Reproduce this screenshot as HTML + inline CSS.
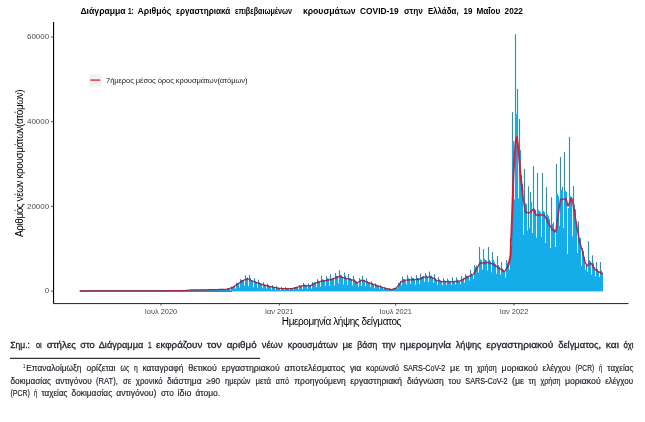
<!DOCTYPE html>
<html><head><meta charset="utf-8">
<style>
html,body{margin:0;padding:0;background:#fff;}
body{width:645px;height:422px;position:relative;overflow:hidden;font-family:"Liberation Sans",sans-serif;}
.t{position:absolute;white-space:nowrap;line-height:1;}
svg{position:absolute;left:0;top:0;opacity:0.999;will-change:transform;}
svg text{font-family:"Liberation Sans",sans-serif;}
</style></head><body>
<svg width="645" height="422" viewBox="0 0 645 422">
<g fill="#e9fafd">
<rect x="244" y="275.87" width="1" height="9.91"/>
<rect x="246" y="275.87" width="1" height="2.46"/>
<rect x="248" y="275.39" width="1" height="10.92"/>
<rect x="250" y="275.39" width="1" height="2.78"/>
<rect x="253" y="278.87" width="1" height="8.25"/>
<rect x="255" y="278.87" width="1" height="2.54"/>
<rect x="257" y="280.27" width="1" height="7.38"/>
<rect x="259" y="280.27" width="1" height="2.17"/>
<rect x="320" y="276.24" width="1" height="10.59"/>
<rect x="322" y="276.24" width="1" height="2.99"/>
<rect x="329" y="274.61" width="1" height="11.36"/>
<rect x="331" y="274.61" width="1" height="4.09"/>
<rect x="334" y="273.48" width="1" height="12"/>
<rect x="336" y="273.48" width="1" height="2.37"/>
<rect x="338" y="270.84" width="1" height="12.73"/>
<rect x="340" y="270.84" width="1" height="3.97"/>
<rect x="343" y="273.14" width="1" height="11.43"/>
<rect x="345" y="273.14" width="1" height="2.57"/>
<rect x="347" y="274.8" width="1" height="10.28"/>
<rect x="349" y="274.8" width="1" height="3.24"/>
<rect x="352" y="276.31" width="1" height="9.11"/>
<rect x="354" y="276.31" width="1" height="2.97"/>
<rect x="361" y="276.41" width="1" height="9.59"/>
<rect x="363" y="276.41" width="1" height="3.22"/>
<rect x="406" y="275.62" width="1" height="8.88"/>
<rect x="408" y="275.62" width="1" height="2.72"/>
<rect x="415" y="275.75" width="1" height="8.98"/>
<rect x="417" y="275.75" width="1" height="2.2"/>
<rect x="419" y="274.3" width="1" height="9.75"/>
<rect x="421" y="274.3" width="1" height="3"/>
<rect x="428" y="272.24" width="1" height="10.04"/>
<rect x="430" y="272.24" width="1" height="3.27"/>
<rect x="433" y="274.93" width="1" height="7.94"/>
<rect x="435" y="274.93" width="1" height="3.14"/>
<rect x="451" y="277.95" width="1" height="6.75"/>
<rect x="453" y="277.95" width="1" height="2.93"/>
<rect x="460" y="276.66" width="1" height="7.5"/>
<rect x="462" y="276.66" width="1" height="2.28"/>
<rect x="469" y="270.39" width="1" height="10.22"/>
<rect x="471" y="270.39" width="1" height="2.79"/>
<rect x="478" y="247.5" width="1" height="25.08"/>
<rect x="480" y="247.5" width="1" height="11.67"/>
<rect x="482" y="249.5" width="1" height="20.19"/>
<rect x="484" y="249.5" width="1" height="9.2"/>
<rect x="487" y="247.5" width="1" height="23.03"/>
<rect x="489" y="247.5" width="1" height="12.19"/>
<rect x="491" y="252.5" width="1" height="19.63"/>
<rect x="493" y="252.5" width="1" height="7.15"/>
<rect x="496" y="256.5" width="1" height="17.52"/>
<rect x="498" y="256.5" width="1" height="8.42"/>
<rect x="500" y="262.5" width="1" height="12.13"/>
<rect x="502" y="262.5" width="1" height="6.36"/>
<rect x="505" y="260.5" width="1" height="16.98"/>
<rect x="507" y="260.5" width="1" height="2.59"/>
<rect x="509" y="239.33" width="1" height="30.48"/>
<rect x="511" y="239.33" width="1" height="5.75"/>
<rect x="511" y="112.5" width="1" height="132.58"/>
<rect x="513" y="112.5" width="1" height="28.5"/>
<rect x="514" y="34.9" width="1" height="164.5"/>
<rect x="516" y="34.9" width="1" height="79.1"/>
<rect x="516" y="89.5" width="1" height="24.5"/>
<rect x="518" y="89.5" width="1" height="108.9"/>
<rect x="518" y="119.5" width="1" height="78.9"/>
<rect x="520" y="119.5" width="1" height="30.56"/>
<rect x="523" y="169.5" width="1" height="64.9"/>
<rect x="525" y="169.5" width="1" height="33.5"/>
<rect x="527" y="186.9" width="1" height="43.7"/>
<rect x="529" y="186.9" width="1" height="40.8"/>
<rect x="529" y="192.8" width="1" height="34.9"/>
<rect x="531" y="192.8" width="1" height="9.2"/>
<rect x="532" y="166.7" width="1" height="66.3"/>
<rect x="534" y="166.7" width="1" height="42.3"/>
<rect x="536" y="173.4" width="1" height="64.3"/>
<rect x="538" y="173.4" width="1" height="36.6"/>
<rect x="541" y="173.4" width="1" height="63.4"/>
<rect x="543" y="173.4" width="1" height="37.6"/>
<rect x="545" y="187.8" width="1" height="55.2"/>
<rect x="547" y="187.8" width="1" height="26.2"/>
<rect x="550" y="197.9" width="1" height="50.1"/>
<rect x="552" y="197.9" width="1" height="26.1"/>
<rect x="555" y="164.5" width="1" height="82.5"/>
<rect x="557" y="164.5" width="1" height="29.5"/>
<rect x="559" y="157.5" width="1" height="68.5"/>
<rect x="561" y="157.5" width="1" height="32.5"/>
<rect x="561" y="187.5" width="1" height="2.5"/>
<rect x="563" y="187.5" width="1" height="40.5"/>
<rect x="563" y="152.5" width="1" height="75.5"/>
<rect x="565" y="152.5" width="1" height="38.5"/>
<rect x="568" y="137.5" width="1" height="70.5"/>
<rect x="570" y="137.5" width="1" height="58.5"/>
<rect x="572" y="186.5" width="1" height="49.8"/>
<rect x="574" y="186.5" width="1" height="17.98"/>
<rect x="577" y="221.9" width="1" height="31.1"/>
<rect x="579" y="221.9" width="1" height="15.79"/>
<rect x="581" y="248.5" width="1" height="17.5"/>
<rect x="583" y="248.5" width="1" height="2.59"/>
<rect x="585" y="266.14" width="1" height="3.86"/>
<rect x="587" y="266.14" width="1" height="5.86"/>
<rect x="587" y="241.9" width="1" height="30.1"/>
<rect x="589" y="241.9" width="1" height="18.2"/>
<rect x="591" y="256.1" width="1" height="18.6"/>
<rect x="593" y="256.1" width="1" height="7.01"/>
<rect x="595" y="262.5" width="1" height="14.1"/>
<rect x="597" y="262.5" width="1" height="6.55"/>
<rect x="599" y="262.5" width="1" height="14.5"/>
<rect x="601" y="262.5" width="1" height="8.12"/>
</g>
<g fill="#d6f5fc">
<rect x="194" y="289.85" width="1" height="0.73"/>
<rect x="199" y="289.89" width="1" height="0.61"/>
<rect x="203" y="289.77" width="1" height="0.79"/>
<rect x="208" y="289.71" width="1" height="0.78"/>
<rect x="212" y="289.46" width="1" height="0.95"/>
<rect x="217" y="289.52" width="1" height="0.84"/>
<rect x="221" y="289.36" width="1" height="0.98"/>
<rect x="226" y="289.25" width="1" height="1.02"/>
<rect x="230" y="288.23" width="1" height="1.67"/>
<rect x="235" y="286.04" width="1" height="2.62"/>
<rect x="239" y="282.9" width="1" height="4.53"/>
<rect x="244" y="280.39" width="1" height="5.39"/>
<rect x="246" y="277.59" width="1" height="0.73"/>
<rect x="248" y="277.59" width="1" height="8.71"/>
<rect x="253" y="280.94" width="1" height="6.19"/>
<rect x="257" y="282.19" width="1" height="5.46"/>
<rect x="262" y="283.99" width="1" height="4.39"/>
<rect x="266" y="285.04" width="1" height="3.82"/>
<rect x="271" y="286.59" width="1" height="2.79"/>
<rect x="275" y="287.06" width="1" height="2.58"/>
<rect x="280" y="288.39" width="1" height="1.55"/>
<rect x="284" y="288.29" width="1" height="1.65"/>
<rect x="289" y="288.62" width="1" height="1.45"/>
<rect x="293" y="288.44" width="1" height="1.32"/>
<rect x="298" y="287.08" width="1" height="2.15"/>
<rect x="302" y="285.72" width="1" height="3.17"/>
<rect x="307" y="285.99" width="1" height="2.77"/>
<rect x="311" y="285.01" width="1" height="3.37"/>
<rect x="313" y="282.26" width="1" height="0.72"/>
<rect x="316" y="282.78" width="1" height="4.54"/>
<rect x="320" y="281.38" width="1" height="5.44"/>
<rect x="325" y="280.12" width="1" height="5.77"/>
<rect x="329" y="278.79" width="1" height="7.18"/>
<rect x="334" y="278.26" width="1" height="7.21"/>
<rect x="338" y="276.24" width="1" height="7.33"/>
<rect x="343" y="277.18" width="1" height="7.39"/>
<rect x="347" y="278.05" width="1" height="7.04"/>
<rect x="352" y="279.8" width="1" height="5.62"/>
<rect x="358" y="283.02" width="1" height="3.72"/>
<rect x="361" y="279.48" width="1" height="6.51"/>
<rect x="365" y="279.77" width="1" height="6.16"/>
<rect x="370" y="282.55" width="1" height="4.41"/>
<rect x="374" y="284.14" width="1" height="4.01"/>
<rect x="379" y="285.81" width="1" height="2.85"/>
<rect x="383" y="287.2" width="1" height="2.07"/>
<rect x="388" y="288.65" width="1" height="1.37"/>
<rect x="392" y="289.55" width="1" height="0.62"/>
<rect x="397" y="287.58" width="1" height="1.04"/>
<rect x="401" y="281.41" width="1" height="3.91"/>
<rect x="406" y="280.65" width="1" height="3.85"/>
<rect x="410" y="278.7" width="1" height="5.22"/>
<rect x="415" y="279.54" width="1" height="5.19"/>
<rect x="419" y="278.24" width="1" height="5.81"/>
<rect x="421" y="276.22" width="1" height="1.08"/>
<rect x="424" y="276.24" width="1" height="5.64"/>
<rect x="428" y="277.23" width="1" height="5.05"/>
<rect x="433" y="277.41" width="1" height="5.46"/>
<rect x="437" y="280.09" width="1" height="4.8"/>
<rect x="442" y="280.88" width="1" height="4.42"/>
<rect x="446" y="281.08" width="1" height="3.62"/>
<rect x="451" y="281.47" width="1" height="3.22"/>
<rect x="455" y="280.7" width="1" height="3.75"/>
<rect x="460" y="281.17" width="1" height="2.99"/>
<rect x="462" y="278.21" width="1" height="0.73"/>
<rect x="464" y="278.21" width="1" height="4.54"/>
<rect x="469" y="276.52" width="1" height="4.08"/>
<rect x="473" y="274.91" width="1" height="4.14"/>
<rect x="475" y="265.7" width="1" height="1.32"/>
<rect x="478" y="266.23" width="1" height="6.35"/>
<rect x="482" y="260.14" width="1" height="9.55"/>
<rect x="487" y="260.55" width="1" height="9.98"/>
<rect x="491" y="261.36" width="1" height="10.77"/>
<rect x="496" y="264.33" width="1" height="9.69"/>
<rect x="500" y="266.68" width="1" height="7.96"/>
<rect x="505" y="271.73" width="1" height="5.75"/>
<rect x="507" y="261.5" width="1" height="1.58"/>
<rect x="509" y="261.5" width="1" height="8.31"/>
<rect x="511" y="238.83" width="1" height="6.25"/>
<rect x="514" y="141" width="1" height="58.4"/>
<rect x="516" y="89" width="1" height="25"/>
<rect x="518" y="119" width="1" height="79.4"/>
<rect x="523" y="184.03" width="1" height="50.37"/>
<rect x="527" y="204" width="1" height="26.6"/>
<rect x="529" y="192.3" width="1" height="35.4"/>
<rect x="532" y="202" width="1" height="31"/>
<rect x="536" y="210" width="1" height="27.7"/>
<rect x="541" y="212" width="1" height="24.8"/>
<rect x="545" y="212" width="1" height="31"/>
<rect x="550" y="219" width="1" height="29"/>
<rect x="552" y="222.6" width="1" height="1.4"/>
<rect x="555" y="229.26" width="1" height="17.74"/>
<rect x="559" y="196" width="1" height="30"/>
<rect x="561" y="187" width="1" height="3"/>
<rect x="563" y="187" width="1" height="41"/>
<rect x="567" y="208" width="1" height="46"/>
<rect x="572" y="197" width="1" height="39.3"/>
<rect x="577" y="222.06" width="1" height="30.94"/>
<rect x="581" y="248" width="1" height="18"/>
<rect x="585" y="265.64" width="1" height="4.36"/>
<rect x="587" y="265.64" width="1" height="6.36"/>
<rect x="591" y="261.36" width="1" height="13.34"/>
<rect x="595" y="267.35" width="1" height="9.25"/>
<rect x="599" y="271.43" width="1" height="5.57"/>
</g>
<rect x="190" y="290.8" width="413" height="0.6" fill="#14ade9"/>
<rect x="80" y="290.2" width="152" height="1.7" fill="#3f8196"/>
<clipPath id="mc"><path d="M80,291V290.7H81V290.7H82V290.7H83V290.7H84V290.7H85V290.7H86V290.7H87V290.7H88V290.7H89V290.7H90V290.7H91V290.7H92V290.7H93V290.7H94V290.7H95V290.7H96V290.7H97V290.7H98V290.7H99V290.7H100V290.7H101V290.7H102V290.7H103V290.7H104V290.7H105V290.7H106V290.7H107V290.7H108V290.7H109V290.7H110V290.7H111V290.7H112V290.7H113V290.7H114V290.7H115V290.7H116V290.7H117V290.7H118V290.7H119V290.7H120V290.7H121V290.7H122V290.7H123V290.7H124V290.7H125V290.7H126V290.7H127V290.7H128V290.7H129V290.7H130V290.7H131V290.7H132V290.7H133V290.7H134V290.7H135V290.7H136V290.7H137V290.7H138V290.7H139V290.7H140V290.7H141V290.7H142V290.7H143V290.7H144V290.7H145V290.7H146V290.7H147V290.7H148V290.7H149V290.7H150V290.7H151V290.7H152V290.7H153V290.7H154V290.7H155V290.7H156V290.7H157V290.7H158V290.7H159V290.7H160V290.7H161V290.7H162V290.7H163V290.7H164V290.67H165V290.7H166V290.7H167V290.7H168V290.68H169V290.69H170V290.7H171V290.7H172V290.7H173V290.56H174V290.64H175V290.65H176V290.7H177V290.55H178V290.6H179V290.59H180V290.62H181V290.7H182V290.47H183V290.55H184V290.55H185V290.7H186V290.19H187V290.21H188V290.11H189V290.06H190V290.6H191V289.61H192V289.84H193V289.85H194V290.58H195V289.49H196V289.73H197V289.8H198V289.89H199V290.51H200V289.48H201V289.67H202V289.77H203V290.56H204V289.33H205V289.61H206V289.67H207V289.71H208V290.49H209V289.27H210V289.49H211V289.46H212V290.41H213V289.12H214V289.35H215V289.46H216V289.52H217V290.36H218V288.96H219V289.33H220V289.36H221V290.34H222V288.77H223V289.07H224V289.25H225V289.25H226V290.27H227V288.27H228V288.36H229V288.23H230V289.89H231V286.54H232V287.12H233V286.46H234V286.04H235V288.66H236V282.75H237V283.18H238V282.9H239V287.43H240V279.25H241V280.11H242V280.07H243V280.39H244V285.78H245V275.37H246V278.32H247V277.59H248V286.3H249V274.89H250V278.17H251V279.9H252V280.94H253V287.13H254V278.37H255V281.41H256V282.19H257V287.65H258V279.77H259V282.44H260V283.05H261V283.99H262V288.37H263V282.48H264V284.63H265V285.04H266V288.86H267V283.79H268V285.31H269V286.08H270V286.59H271V289.38H272V285.52H273V286.64H274V287.06H275V289.64H276V286.14H277V287.46H278V287.98H279V288.39H280V289.94H281V287.48H282V288.15H283V288.29H284V289.94H285V287.45H286V288.2H287V288.48H288V288.62H289V290.07H290V288H291V288.34H292V288.44H293V289.76H294V286.96H295V287.25H296V287.04H297V287.08H298V289.23H299V285.02H300V285.77H301V285.72H302V288.89H303V282.88H304V284.7H305V284.81H306V285.99H307V288.76H308V283.71H309V285.31H310V285.01H311V288.38H312V282.26H313V282.98H314V282.25H315V282.78H316V287.32H317V279.35H318V280.76H319V281.38H320V286.83H321V275.74H322V279.23H323V279.81H324V280.12H325V285.9H326V275.89H327V277.93H328V278.79H329V285.97H330V274.11H331V278.7H332V278.26H333V278.26H334V285.47H335V272.98H336V275.85H337V276.24H338V283.57H339V270.34H340V274.81H341V275.35H342V277.18H343V284.57H344V272.64H345V275.71H346V278.05H347V285.08H348V274.3H349V278.04H350V278.16H351V279.8H352V285.42H353V275.81H354V279.27H355V280.8H356V281.82H357V283.02H358V286.73H359V278.3H360V279.48H361V286H362V275.91H363V279.63H364V279.77H365V285.93H366V278.58H367V281.07H368V281.92H369V282.55H370V286.97H371V281.57H372V283.26H373V284.14H374V288.15H375V283.59H376V284.66H377V285.6H378V285.81H379V288.67H380V285.47H381V286.69H382V287.2H383V289.27H384V287.03H385V287.99H386V288.28H387V288.65H388V290.02H389V288.31H390V289.21H391V289.55H392V290.18H393V288.17H394V288.22H395V288.14H396V287.58H397V288.62H398V282.94H399V283.25H400V281.41H401V285.32H402V276.75H403V278.7H404V279.77H405V280.65H406V284.51H407V275.12H408V278.35H409V278.7H410V283.91H411V276.63H412V278H413V278H414V279.54H415V284.73H416V275.25H417V277.95H418V278.24H419V284.05H420V273.8H421V277.3H422V276.22H423V276.24H424V281.88H425V273.14H426V274.89H427V277.23H428V282.28H429V271.74H430V275.52H431V275.8H432V277.41H433V282.87H434V274.43H435V278.07H436V280.09H437V284.89H438V277.21H439V279.51H440V280.48H441V280.88H442V285.3H443V278.28H444V280.33H445V281.08H446V284.7H447V278.71H448V280.16H449V281.29H450V281.47H451V284.69H452V277.45H453V280.88H454V280.7H455V284.44H456V277.53H457V279.45H458V280.67H459V281.17H460V284.16H461V276.16H462V278.94H463V278.21H464V282.74H465V274.08H466V275.67H467V275.67H468V276.52H469V280.61H470V269.89H471V273.18H472V274.91H473V279.05H474V265.11H475V267.02H476V265.7H477V266.23H478V272.58H479V247H480V259.17H481V260.14H482V269.69H483V249H484V258.7H485V259.8H486V260.55H487V270.53H488V247H489V259.69H490V261.36H491V272.13H492V252H493V259.65H494V262.37H495V264.33H496V274.02H497V256H498V264.92H499V266.68H500V274.63H501V262H502V268.86H503V269.63H504V271.73H505V277.48H506V260H507V263.09H508V261.5H509V269.81H510V238.83H511V245.08H512V112H513V141H514V199.4H515V34.4H516V114H517V89H518V198.4H519V119H520V150.06H521V175.44H522V184.03H523V234.4H524V169H525V203H526V204H527V230.6H528V186.4H529V227.7H530V192.3H531V202H532V233H533V166.2H534V209H535V210H536V237.7H537V172.9H538V210H539V211H540V212H541V236.8H542V172.9H543V211H544V212H545V243H546V187.3H547V214H548V216H549V219H550V248H551V197.4H552V224H553V222.6H554V229.26H555V247H556V164H557V194H558V196H559V226H560V157H561V190H562V187H563V228H564V152H565V191H566V192H567V254H568V208H569V137H570V196H571V197H572V236.3H573V186H574V204.48H575V209.24H576V222.06H577V253H578V221.4H579V237.69H580V238.09H581V266H582V248H583V251.09H584V256.93H585V270H586V265.64H587V272H588V241.4H589V260.1H590V261.36H591V274.7H592V255.6H593V263.11H594V267.35H595V276.6H596V262H597V269.05H598V271.43H599V277H600V262H601V270.62H602V272.65H603V291Z"/></clipPath>
<path fill="#14ade9" d="M80,291V290.7H81V290.7H82V290.7H83V290.7H84V290.7H85V290.7H86V290.7H87V290.7H88V290.7H89V290.7H90V290.7H91V290.7H92V290.7H93V290.7H94V290.7H95V290.7H96V290.7H97V290.7H98V290.7H99V290.7H100V290.7H101V290.7H102V290.7H103V290.7H104V290.7H105V290.7H106V290.7H107V290.7H108V290.7H109V290.7H110V290.7H111V290.7H112V290.7H113V290.7H114V290.7H115V290.7H116V290.7H117V290.7H118V290.7H119V290.7H120V290.7H121V290.7H122V290.7H123V290.7H124V290.7H125V290.7H126V290.7H127V290.7H128V290.7H129V290.7H130V290.7H131V290.7H132V290.7H133V290.7H134V290.7H135V290.7H136V290.7H137V290.7H138V290.7H139V290.7H140V290.7H141V290.7H142V290.7H143V290.7H144V290.7H145V290.7H146V290.7H147V290.7H148V290.7H149V290.7H150V290.7H151V290.7H152V290.7H153V290.7H154V290.7H155V290.7H156V290.7H157V290.7H158V290.7H159V290.7H160V290.7H161V290.7H162V290.7H163V290.7H164V290.67H165V290.7H166V290.7H167V290.7H168V290.68H169V290.69H170V290.7H171V290.7H172V290.7H173V290.56H174V290.64H175V290.65H176V290.7H177V290.55H178V290.6H179V290.59H180V290.62H181V290.7H182V290.47H183V290.55H184V290.55H185V290.7H186V290.19H187V290.21H188V290.11H189V290.06H190V290.6H191V289.61H192V289.84H193V289.85H194V290.58H195V289.49H196V289.73H197V289.8H198V289.89H199V290.51H200V289.48H201V289.67H202V289.77H203V290.56H204V289.33H205V289.61H206V289.67H207V289.71H208V290.49H209V289.27H210V289.49H211V289.46H212V290.41H213V289.12H214V289.35H215V289.46H216V289.52H217V290.36H218V288.96H219V289.33H220V289.36H221V290.34H222V288.77H223V289.07H224V289.25H225V289.25H226V290.27H227V288.27H228V288.36H229V288.23H230V289.89H231V286.54H232V287.12H233V286.46H234V286.04H235V288.66H236V282.75H237V283.18H238V282.9H239V287.43H240V279.25H241V280.11H242V280.07H243V280.39H244V285.78H245V275.37H246V278.32H247V277.59H248V286.3H249V274.89H250V278.17H251V279.9H252V280.94H253V287.13H254V278.37H255V281.41H256V282.19H257V287.65H258V279.77H259V282.44H260V283.05H261V283.99H262V288.37H263V282.48H264V284.63H265V285.04H266V288.86H267V283.79H268V285.31H269V286.08H270V286.59H271V289.38H272V285.52H273V286.64H274V287.06H275V289.64H276V286.14H277V287.46H278V287.98H279V288.39H280V289.94H281V287.48H282V288.15H283V288.29H284V289.94H285V287.45H286V288.2H287V288.48H288V288.62H289V290.07H290V288H291V288.34H292V288.44H293V289.76H294V286.96H295V287.25H296V287.04H297V287.08H298V289.23H299V285.02H300V285.77H301V285.72H302V288.89H303V282.88H304V284.7H305V284.81H306V285.99H307V288.76H308V283.71H309V285.31H310V285.01H311V288.38H312V282.26H313V282.98H314V282.25H315V282.78H316V287.32H317V279.35H318V280.76H319V281.38H320V286.83H321V275.74H322V279.23H323V279.81H324V280.12H325V285.9H326V275.89H327V277.93H328V278.79H329V285.97H330V274.11H331V278.7H332V278.26H333V278.26H334V285.47H335V272.98H336V275.85H337V276.24H338V283.57H339V270.34H340V274.81H341V275.35H342V277.18H343V284.57H344V272.64H345V275.71H346V278.05H347V285.08H348V274.3H349V278.04H350V278.16H351V279.8H352V285.42H353V275.81H354V279.27H355V280.8H356V281.82H357V283.02H358V286.73H359V278.3H360V279.48H361V286H362V275.91H363V279.63H364V279.77H365V285.93H366V278.58H367V281.07H368V281.92H369V282.55H370V286.97H371V281.57H372V283.26H373V284.14H374V288.15H375V283.59H376V284.66H377V285.6H378V285.81H379V288.67H380V285.47H381V286.69H382V287.2H383V289.27H384V287.03H385V287.99H386V288.28H387V288.65H388V290.02H389V288.31H390V289.21H391V289.55H392V290.18H393V288.17H394V288.22H395V288.14H396V287.58H397V288.62H398V282.94H399V283.25H400V281.41H401V285.32H402V276.75H403V278.7H404V279.77H405V280.65H406V284.51H407V275.12H408V278.35H409V278.7H410V283.91H411V276.63H412V278H413V278H414V279.54H415V284.73H416V275.25H417V277.95H418V278.24H419V284.05H420V273.8H421V277.3H422V276.22H423V276.24H424V281.88H425V273.14H426V274.89H427V277.23H428V282.28H429V271.74H430V275.52H431V275.8H432V277.41H433V282.87H434V274.43H435V278.07H436V280.09H437V284.89H438V277.21H439V279.51H440V280.48H441V280.88H442V285.3H443V278.28H444V280.33H445V281.08H446V284.7H447V278.71H448V280.16H449V281.29H450V281.47H451V284.69H452V277.45H453V280.88H454V280.7H455V284.44H456V277.53H457V279.45H458V280.67H459V281.17H460V284.16H461V276.16H462V278.94H463V278.21H464V282.74H465V274.08H466V275.67H467V275.67H468V276.52H469V280.61H470V269.89H471V273.18H472V274.91H473V279.05H474V265.11H475V267.02H476V265.7H477V266.23H478V272.58H479V247H480V259.17H481V260.14H482V269.69H483V249H484V258.7H485V259.8H486V260.55H487V270.53H488V247H489V259.69H490V261.36H491V272.13H492V252H493V259.65H494V262.37H495V264.33H496V274.02H497V256H498V264.92H499V266.68H500V274.63H501V262H502V268.86H503V269.63H504V271.73H505V277.48H506V260H507V263.09H508V261.5H509V269.81H510V238.83H511V245.08H512V112H513V141H514V199.4H515V34.4H516V114H517V89H518V198.4H519V119H520V150.06H521V175.44H522V184.03H523V234.4H524V169H525V203H526V204H527V230.6H528V186.4H529V227.7H530V192.3H531V202H532V233H533V166.2H534V209H535V210H536V237.7H537V172.9H538V210H539V211H540V212H541V236.8H542V172.9H543V211H544V212H545V243H546V187.3H547V214H548V216H549V219H550V248H551V197.4H552V224H553V222.6H554V229.26H555V247H556V164H557V194H558V196H559V226H560V157H561V190H562V187H563V228H564V152H565V191H566V192H567V254H568V208H569V137H570V196H571V197H572V236.3H573V186H574V204.48H575V209.24H576V222.06H577V253H578V221.4H579V237.69H580V238.09H581V266H582V248H583V251.09H584V256.93H585V270H586V265.64H587V272H588V241.4H589V260.1H590V261.36H591V274.7H592V255.6H593V263.11H594V267.35H595V276.6H596V262H597V269.05H598V271.43H599V277H600V262H601V270.62H602V272.65H603V291Z"/>
<g fill="#438a9e">
<rect x="240" y="279.25" width="1" height="0.86"/>
<rect x="245" y="275.37" width="1" height="2.96"/>
<rect x="247" y="277.59" width="1" height="0.73"/>
<rect x="249" y="274.89" width="1" height="3.28"/>
<rect x="254" y="278.37" width="1" height="3.04"/>
<rect x="258" y="279.77" width="1" height="2.67"/>
<rect x="263" y="282.48" width="1" height="2.15"/>
<rect x="267" y="283.79" width="1" height="1.53"/>
<rect x="272" y="285.52" width="1" height="1.12"/>
<rect x="276" y="286.14" width="1" height="1.31"/>
<rect x="281" y="287.48" width="1" height="0.67"/>
<rect x="285" y="287.45" width="1" height="0.75"/>
<rect x="299" y="285.02" width="1" height="0.76"/>
<rect x="303" y="282.88" width="1" height="1.82"/>
<rect x="308" y="283.71" width="1" height="1.6"/>
<rect x="312" y="282.26" width="1" height="0.72"/>
<rect x="317" y="279.35" width="1" height="1.41"/>
<rect x="321" y="275.74" width="1" height="3.49"/>
<rect x="326" y="275.89" width="1" height="2.04"/>
<rect x="330" y="274.11" width="1" height="4.59"/>
<rect x="335" y="272.98" width="1" height="2.87"/>
<rect x="339" y="270.34" width="1" height="4.47"/>
<rect x="344" y="272.64" width="1" height="3.07"/>
<rect x="348" y="274.3" width="1" height="3.74"/>
<rect x="353" y="275.81" width="1" height="3.47"/>
<rect x="359" y="278.3" width="1" height="1.18"/>
<rect x="362" y="275.91" width="1" height="3.72"/>
<rect x="366" y="278.58" width="1" height="2.49"/>
<rect x="371" y="281.57" width="1" height="1.69"/>
<rect x="375" y="283.59" width="1" height="1.07"/>
<rect x="380" y="285.47" width="1" height="1.22"/>
<rect x="384" y="287.03" width="1" height="0.96"/>
<rect x="389" y="288.31" width="1" height="0.89"/>
<rect x="400" y="281.41" width="1" height="1.84"/>
<rect x="402" y="276.75" width="1" height="1.95"/>
<rect x="407" y="275.12" width="1" height="3.22"/>
<rect x="411" y="276.63" width="1" height="1.36"/>
<rect x="416" y="275.25" width="1" height="2.7"/>
<rect x="420" y="273.8" width="1" height="3.5"/>
<rect x="425" y="273.14" width="1" height="1.74"/>
<rect x="429" y="271.74" width="1" height="3.77"/>
<rect x="434" y="274.43" width="1" height="3.64"/>
<rect x="438" y="277.21" width="1" height="2.3"/>
<rect x="443" y="278.28" width="1" height="2.05"/>
<rect x="447" y="278.71" width="1" height="1.44"/>
<rect x="452" y="277.45" width="1" height="3.43"/>
<rect x="456" y="277.53" width="1" height="1.93"/>
<rect x="461" y="276.16" width="1" height="2.78"/>
<rect x="463" y="278.21" width="1" height="0.73"/>
<rect x="465" y="274.08" width="1" height="1.59"/>
<rect x="470" y="269.89" width="1" height="3.29"/>
<rect x="474" y="265.11" width="1" height="1.92"/>
<rect x="479" y="247" width="1" height="12.17"/>
<rect x="483" y="249" width="1" height="9.7"/>
<rect x="488" y="247" width="1" height="12.69"/>
<rect x="492" y="252" width="1" height="7.65"/>
<rect x="497" y="256" width="1" height="8.92"/>
<rect x="501" y="262" width="1" height="6.86"/>
<rect x="506" y="260" width="1" height="3.09"/>
<rect x="508" y="261.5" width="1" height="1.58"/>
<rect x="510" y="238.83" width="1" height="6.25"/>
<rect x="512" y="112" width="1" height="29"/>
<rect x="515" y="34.4" width="1" height="79.6"/>
<rect x="517" y="89" width="1" height="25"/>
<rect x="519" y="119" width="1" height="31.06"/>
<rect x="524" y="169" width="1" height="34"/>
<rect x="528" y="186.4" width="1" height="41.3"/>
<rect x="530" y="192.3" width="1" height="9.7"/>
<rect x="533" y="166.2" width="1" height="42.8"/>
<rect x="537" y="172.9" width="1" height="37.1"/>
<rect x="542" y="172.9" width="1" height="38.1"/>
<rect x="546" y="187.3" width="1" height="26.7"/>
<rect x="551" y="197.4" width="1" height="26.6"/>
<rect x="553" y="222.6" width="1" height="1.4"/>
<rect x="556" y="164" width="1" height="30"/>
<rect x="560" y="157" width="1" height="33"/>
<rect x="562" y="187" width="1" height="3"/>
<rect x="564" y="152" width="1" height="39"/>
<rect x="569" y="137" width="1" height="59"/>
<rect x="573" y="186" width="1" height="18.48"/>
<rect x="578" y="221.4" width="1" height="16.29"/>
<rect x="582" y="248" width="1" height="3.09"/>
<rect x="586" y="265.64" width="1" height="4.36"/>
<rect x="588" y="241.4" width="1" height="18.7"/>
<rect x="592" y="255.6" width="1" height="7.51"/>
<rect x="596" y="262" width="1" height="7.05"/>
<rect x="600" y="262" width="1" height="8.62"/>
</g>
<polyline clip-path="url(#mc)" fill="none" stroke="#5a2a80" stroke-opacity="0.25" stroke-width="3" stroke-linejoin="round" points="79.5,291 80,291 80.5,291 81,291 81.5,291 82,290.99 82.5,290.99 83,290.99 83.5,290.99 84,290.99 84.5,290.99 85,290.99 85.5,290.99 86,290.98 86.5,290.98 87,290.98 87.5,290.98 88,290.98 88.5,290.98 89,290.98 89.5,290.98 90,290.97 90.5,290.97 91,290.97 91.5,290.97 92,290.97 92.5,290.97 93,290.97 93.5,290.97 94,290.96 94.5,290.96 95,290.96 95.5,290.96 96,290.96 96.5,290.96 97,290.96 97.5,290.96 98,290.95 98.5,290.95 99,290.95 99.5,290.95 100,290.95 100.5,290.95 101,290.95 101.5,290.95 102,290.94 102.5,290.94 103,290.94 103.5,290.94 104,290.94 104.5,290.94 105,290.94 105.5,290.94 106,290.93 106.5,290.93 107,290.93 107.5,290.93 108,290.93 108.5,290.93 109,290.93 109.5,290.93 110,290.92 110.5,290.92 111,290.92 111.5,290.92 112,290.92 112.5,290.92 113,290.92 113.5,290.92 114,290.91 114.5,290.91 115,290.91 115.5,290.91 116,290.91 116.5,290.91 117,290.91 117.5,290.91 118,290.9 118.5,290.9 119,290.9 119.5,290.9 120,290.9 120.5,290.9 121,290.9 121.5,290.9 122,290.89 122.5,290.89 123,290.89 123.5,290.89 124,290.89 124.5,290.89 125,290.89 125.5,290.89 126,290.88 126.5,290.88 127,290.88 127.5,290.88 128,290.88 128.5,290.88 129,290.88 129.5,290.88 130,290.88 130.5,290.87 131,290.87 131.5,290.87 132,290.87 132.5,290.87 133,290.87 133.5,290.87 134,290.87 134.5,290.86 135,290.86 135.5,290.86 136,290.86 136.5,290.86 137,290.86 137.5,290.86 138,290.86 138.5,290.85 139,290.85 139.5,290.85 140,290.85 140.5,290.85 141,290.85 141.5,290.85 142,290.84 142.5,290.84 143,290.84 143.5,290.84 144,290.84 144.5,290.84 145,290.84 145.5,290.84 146,290.83 146.5,290.83 147,290.83 147.5,290.83 148,290.83 148.5,290.83 149,290.83 149.5,290.83 150,290.82 150.5,290.82 151,290.82 151.5,290.82 152,290.82 152.5,290.82 153,290.82 153.5,290.82 154,290.81 154.5,290.81 155,290.81 155.5,290.81 156,290.81 156.5,290.81 157,290.81 157.5,290.81 158,290.81 158.5,290.8 159,290.8 159.5,290.8 160,290.8 160.5,290.8 161,290.79 161.5,290.79 162,290.78 162.5,290.78 163,290.78 163.5,290.77 164,290.77 164.5,290.76 165,290.76 165.5,290.76 166,290.75 166.5,290.75 167,290.74 167.5,290.74 168,290.73 168.5,290.73 169,290.73 169.5,290.72 170,290.72 170.5,290.71 171,290.71 171.5,290.71 172,290.7 172.5,290.7 173,290.69 173.5,290.69 174,290.69 174.5,290.68 175,290.68 175.5,290.67 176,290.67 176.5,290.67 177,290.66 177.5,290.66 178,290.65 178.5,290.65 179,290.65 179.5,290.64 180,290.64 180.5,290.63 181,290.63 181.5,290.63 182,290.62 182.5,290.62 183,290.61 183.5,290.61 184,290.6 184.5,290.6 185,290.56 185.5,290.51 186,290.45 186.5,290.4 187,290.35 187.5,290.29 188,290.24 188.5,290.19 189,290.14 189.5,290.08 190,290.03 190.5,290 191,289.99 191.5,289.98 192,289.98 192.5,289.97 193,289.96 193.5,289.96 194,289.95 194.5,289.94 195,289.94 195.5,289.93 196,289.92 196.5,289.92 197,289.91 197.5,289.9 198,289.9 198.5,289.89 199,289.88 199.5,289.87 200,289.87 200.5,289.86 201,289.85 201.5,289.85 202,289.84 202.5,289.83 203,289.83 203.5,289.82 204,289.81 204.5,289.81 205,289.8 205.5,289.79 206,289.78 206.5,289.76 207,289.75 207.5,289.74 208,289.73 208.5,289.72 209,289.71 209.5,289.69 210,289.68 210.5,289.67 211,289.66 211.5,289.65 212,289.64 212.5,289.62 213,289.61 213.5,289.6 214,289.59 214.5,289.58 215,289.57 215.5,289.55 216,289.54 216.5,289.53 217,289.52 217.5,289.51 218,289.5 218.5,289.48 219,289.47 219.5,289.46 220,289.45 220.5,289.44 221,289.43 221.5,289.41 222,289.4 222.5,289.39 223,289.38 223.5,289.37 224,289.36 224.5,289.34 225,289.33 225.5,289.32 226,289.31 226.5,289.27 227,289.14 227.5,289.01 228,288.87 228.5,288.74 229,288.6 229.5,288.47 230,288.34 230.5,288.2 231,288.07 231.5,287.93 232,287.8 232.5,287.47 233,287.13 233.5,286.8 234,286.47 234.5,286.13 235,285.8 235.5,285.47 236,285.13 236.5,284.8 237,284.47 237.5,284.13 238,283.8 238.5,283.47 239,283.13 239.5,282.8 240,282.47 240.5,282.13 241,281.8 241.5,281.47 242,281.13 242.5,280.8 243,280.47 243.5,280.17 244,280.04 244.5,279.9 245,279.77 245.5,279.63 246,279.5 246.5,279.36 247,279.22 247.5,279.09 248,278.95 248.5,279.05 249,279.29 249.5,279.54 250,279.78 250.5,280.03 251,280.27 251.5,280.51 252,280.76 252.5,281 253,281.24 253.5,281.42 254,281.61 254.5,281.79 255,281.97 255.5,282.16 256,282.34 256.5,282.53 257,282.71 257.5,282.89 258,283.08 258.5,283.26 259,283.45 259.5,283.63 260,283.82 260.5,284 261,284.13 261.5,284.26 262,284.39 262.5,284.53 263,284.66 263.5,284.79 264,284.92 264.5,285.05 265,285.18 265.5,285.32 266,285.45 266.5,285.58 267,285.71 267.5,285.84 268,285.97 268.5,286.11 269,286.24 269.5,286.37 270,286.5 270.5,286.6 271,286.7 271.5,286.8 272,286.9 272.5,287 273,287.1 273.5,287.2 274,287.3 274.5,287.4 275,287.5 275.5,287.6 276,287.7 276.5,287.8 277,287.9 277.5,288 278,288.1 278.5,288.2 279,288.3 279.5,288.4 280,288.42 280.5,288.43 281,288.45 281.5,288.47 282,288.48 282.5,288.5 283,288.51 283.5,288.53 284,288.55 284.5,288.56 285,288.58 285.5,288.6 286,288.61 286.5,288.63 287,288.64 287.5,288.66 288,288.68 288.5,288.69 289,288.71 289.5,288.73 290,288.74 290.5,288.76 291,288.77 291.5,288.79 292,288.74 292.5,288.6 293,288.45 293.5,288.31 294,288.17 294.5,288.02 295,287.88 295.5,287.73 296,287.59 296.5,287.45 297,287.3 297.5,287.16 298,287.02 298.5,286.87 299,286.74 299.5,286.61 300,286.48 300.5,286.35 301,286.22 301.5,286.08 302,285.95 302.5,285.82 303,285.69 303.5,285.56 304,285.43 304.5,285.44 305,285.49 305.5,285.55 306,285.6 306.5,285.65 307,285.71 307.5,285.76 308,285.81 308.5,285.86 309,285.92 309.5,285.97 310,285.89 310.5,285.63 311,285.37 311.5,285.11 312,284.84 312.5,284.58 313,284.32 313.5,284.05 314,283.79 314.5,283.53 315,283.26 315.5,283 316,282.84 316.5,282.68 317,282.53 317.5,282.37 318,282.21 318.5,282.05 319,281.89 319.5,281.74 320,281.58 320.5,281.42 321,281.26 321.5,281.15 322,281.07 322.5,280.99 323,280.92 323.5,280.84 324,280.76 324.5,280.68 325,280.6 325.5,280.52 326,280.44 326.5,280.36 327,280.28 327.5,280.21 328,280.13 328.5,280.05 329,279.97 329.5,279.89 330,279.81 330.5,279.73 331,279.58 331.5,279.39 332,279.2 332.5,279 333,278.81 333.5,278.61 334,278.42 334.5,278.22 335,278.03 335.5,277.84 336,277.64 336.5,277.45 337,277.25 337.5,277.06 338,276.87 338.5,276.67 339,276.48 339.5,276.49 340,276.63 340.5,276.77 341,276.92 341.5,277.06 342,277.21 342.5,277.35 343,277.49 343.5,277.64 344,277.78 344.5,277.93 345,278.07 345.5,278.21 346,278.35 346.5,278.48 347,278.6 347.5,278.73 348,278.85 348.5,278.98 349,279.1 349.5,279.23 350,279.35 350.5,279.48 351,279.6 351.5,279.73 352,279.85 352.5,279.98 353,280.1 353.5,280.27 354,280.59 354.5,280.92 355,281.25 355.5,281.58 356,281.91 356.5,282.24 357,282.57 357.5,282.54 358,282.28 358.5,282.02 359,281.76 359.5,281.5 360,281.24 360.5,280.98 361,280.72 361.5,280.46 362,280.2 362.5,280.39 363,280.58 363.5,280.77 364,280.96 364.5,281.15 365,281.34 365.5,281.53 366,281.72 366.5,281.9 367,282.09 367.5,282.28 368,282.47 368.5,282.66 369,282.84 369.5,283.02 370,283.2 370.5,283.38 371,283.55 371.5,283.73 372,283.91 372.5,284.09 373,284.26 373.5,284.44 374,284.62 374.5,284.8 375,284.97 375.5,285.15 376,285.33 376.5,285.5 377,285.66 377.5,285.82 378,285.98 378.5,286.14 379,286.3 379.5,286.46 380,286.62 380.5,286.78 381,286.94 381.5,287.1 382,287.26 382.5,287.42 383,287.58 383.5,287.74 384,287.87 384.5,287.99 385,288.12 385.5,288.24 386,288.36 386.5,288.48 387,288.6 387.5,288.72 388,288.84 388.5,288.96 389,289.08 389.5,289.2 390,289.32 390.5,289.44 391,289.56 391.5,289.68 392,289.54 392.5,289.34 393,289.15 393.5,288.95 394,288.75 394.5,288.55 395,288.35 395.5,288.16 396,287.96 396.5,287.67 397,287.04 397.5,286.41 398,285.78 398.5,285.15 399,284.52 399.5,283.89 400,283.26 400.5,282.63 401,282 401.5,281.7 402,281.4 402.5,281.1 403,280.8 403.5,280.5 404,280.2 404.5,280.17 405,280.14 405.5,280.11 406,280.08 406.5,280.05 407,280.02 407.5,279.99 408,279.96 408.5,279.93 409,279.9 409.5,279.87 410,279.84 410.5,279.81 411,279.78 411.5,279.75 412,279.72 412.5,279.69 413,279.66 413.5,279.63 414,279.6 414.5,279.57 415,279.54 415.5,279.51 416,279.48 416.5,279.45 417,279.42 417.5,279.39 418,279.36 418.5,279.33 419,279.3 419.5,279.07 420,278.83 420.5,278.6 421,278.36 421.5,278.13 422,277.89 422.5,277.66 423,277.42 423.5,277.19 424,277 424.5,277 425,277 425.5,277 426,277 426.5,277 427,277 427.5,277 428,277 428.5,277 429,277 429.5,277 430,277 430.5,277 431,277 431.5,277.07 432,277.4 432.5,277.73 433,278.07 433.5,278.4 434,278.73 434.5,279.07 435,279.4 435.5,279.73 436,280.07 436.5,280.27 437,280.4 437.5,280.52 438,280.64 438.5,280.76 439,280.89 439.5,281.01 440,281.13 440.5,281.26 441,281.38 441.5,281.5 442,281.6 442.5,281.63 443,281.65 443.5,281.67 444,281.69 444.5,281.71 445,281.73 445.5,281.75 446,281.77 446.5,281.79 447,281.81 447.5,281.84 448,281.86 448.5,281.88 449,281.9 449.5,281.92 450,281.94 450.5,281.96 451,281.98 451.5,281.99 452,281.92 452.5,281.86 453,281.8 453.5,281.73 454,281.67 454.5,281.6 455,281.54 455.5,281.48 456,281.41 456.5,281.35 457,281.29 457.5,281.22 458,281.16 458.5,281.09 459,281.03 459.5,280.97 460,280.9 460.5,280.84 461,280.68 461.5,280.38 462,280.08 462.5,279.79 463,279.49 463.5,279.19 464,278.89 464.5,278.59 465,278.29 465.5,278 466,277.7 466.5,277.4 467,277.18 467.5,276.97 468,276.75 468.5,276.53 469,276.32 469.5,276.1 470,275.89 470.5,275.67 471,275.45 471.5,275.24 472,275.02 472.5,274.8 473,274.59 473.5,274 474,273.16 474.5,272.32 475,271.48 475.5,270.64 476,269.8 476.5,268.93 477,268.06 477.5,267.19 478,266.33 478.5,265.46 479,264.59 479.5,263.72 480,263.19 480.5,263.15 481,263.12 481.5,263.08 482,263.04 482.5,263.01 483,262.97 483.5,262.94 484,262.9 484.5,262.87 485,262.83 485.5,262.8 486,262.76 486.5,262.73 487,262.69 487.5,262.66 488,262.62 488.5,262.66 489,262.81 489.5,262.96 490,263.11 490.5,263.26 491,263.4 491.5,263.55 492,263.7 492.5,263.85 493,264 493.5,264.35 494,264.7 494.5,265.05 495,265.4 495.5,265.75 496,266.11 496.5,266.46 497,266.81 497.5,267.16 498,267.51 498.5,267.86 499,268.19 499.5,268.51 500,268.83 500.5,269.15 501,269.47 501.5,269.79 502,270.11 502.5,270.42 503,270.74 503.5,271.06 504,271.38 504.5,271.7 505,270.95 505.5,270.2 506,269.45 506.5,268.7 507,267.95 507.5,267.2 508,266.45 508.5,265 509,262.5 508.5,265 509,262.5 509.5,260 510,257.5 510.5,255 511,241.67 511.5,228.33 512,215 512.5,201.67 513,188.33 513.5,175 514,166.75 514.5,158.5 515,150.25 515.5,142 516,140.33 516.5,138.67 517,137 517.5,141.33 518,145.67 518.5,150 519,155.95 519.5,161.9 520,167.86 520.5,173.81 521,178.51 521.5,182.91 522,187.3 522.5,191.69 522,187.3 522.5,191.69 523,196.09 523.5,200.25 524,203.52 524.5,206.78 525,210.04 525.5,212.05 526,212.18 526.5,212.32 527,212.45 527.5,212.58 528,212.71 528.5,212.84 529,212.97 529.5,212.67 530,212.25 530.5,211.83 531,211.42 531.5,211 532,210.58 532.5,210.17 533,209.75 533.5,209.33 534,209.32 534.5,210.89 535,212.47 535.5,214.05 536,215 536.5,215 537,215 537.5,215 538,215 538.5,215 539,215 539.5,215 540,215 540.5,215 541,215 541.5,215 542,215 542.5,215 543,215 543.5,215 544,215 544.5,215.38 545,216.34 545.5,217.3 546,218.26 546.5,219.21 547,220.17 547.5,221.13 548,222.09 548.5,223.04 549,224 549.5,224.86 550,225.72 550.5,226.59 551,227.45 551.5,228.31 552,229.08 552.5,229.47 553,229.87 553.5,230.26 554,230.66 554.5,231.05 555,231.45 555.5,231.84 556,229.96 556.5,226.57 557,223.18 557.5,219.79 558,216.39 558.5,213 559,209.47 559.5,205.95 560,202.42 560.5,199.58 561,199.51 561.5,199.43 562,199.35 562.5,199.27 563,199.19 563.5,199.11 564,199.03 564.5,198.95 565,198.87 565.5,198.79 566,198.72 566.5,200.24 567,202.16 567.5,204.08 568,206 568.5,204.91 569,203.82 569.5,202.72 570,201.63 570.5,200.54 571,199.45 571.5,198.36 572,198.78 572.5,201.49 573,204.21 573.5,206.92 574,209.71 574.5,212.57 575,215.43 575.5,218.29 576,221.14 576.5,224 577,226.93 577.5,229.86 578,232.79 578.5,235.72 579,238.66 579.5,241.32 580,242.93 580.5,244.54 581,246.14 581.5,247.75 582,249.36 582.5,251.29 583,253.43 583.5,255.57 584,257.71 584.5,259.86 585,262 585.5,263 586,264 586.5,265 587,266 587.5,265.46 588,264.93 588.5,264.39 589,263.86 589.5,263.32 590,263.11 590.5,263.37 591,263.63 591.5,263.89 592,264.54 592.5,265.43 593,266.32 593.5,267.21 594,268.11 594.5,269 595,269.36 595.5,269.71 596,270.07 596.5,270.42 597,270.78 597.5,271.13 598,271.49 598.5,271.79 599,272.01 599.5,272.24 600,272.46 600.5,272.68 601,272.91 601.5,273.13 602,273.35 602.5,273.58 603,273.8"/>
<polyline fill="none" stroke="#a31f38" stroke-opacity="0.92" stroke-width="1.25" stroke-linejoin="round" points="79.5,291 80,291 80.5,291 81,291 81.5,291 82,290.99 82.5,290.99 83,290.99 83.5,290.99 84,290.99 84.5,290.99 85,290.99 85.5,290.99 86,290.98 86.5,290.98 87,290.98 87.5,290.98 88,290.98 88.5,290.98 89,290.98 89.5,290.98 90,290.97 90.5,290.97 91,290.97 91.5,290.97 92,290.97 92.5,290.97 93,290.97 93.5,290.97 94,290.96 94.5,290.96 95,290.96 95.5,290.96 96,290.96 96.5,290.96 97,290.96 97.5,290.96 98,290.95 98.5,290.95 99,290.95 99.5,290.95 100,290.95 100.5,290.95 101,290.95 101.5,290.95 102,290.94 102.5,290.94 103,290.94 103.5,290.94 104,290.94 104.5,290.94 105,290.94 105.5,290.94 106,290.93 106.5,290.93 107,290.93 107.5,290.93 108,290.93 108.5,290.93 109,290.93 109.5,290.93 110,290.92 110.5,290.92 111,290.92 111.5,290.92 112,290.92 112.5,290.92 113,290.92 113.5,290.92 114,290.91 114.5,290.91 115,290.91 115.5,290.91 116,290.91 116.5,290.91 117,290.91 117.5,290.91 118,290.9 118.5,290.9 119,290.9 119.5,290.9 120,290.9 120.5,290.9 121,290.9 121.5,290.9 122,290.89 122.5,290.89 123,290.89 123.5,290.89 124,290.89 124.5,290.89 125,290.89 125.5,290.89 126,290.88 126.5,290.88 127,290.88 127.5,290.88 128,290.88 128.5,290.88 129,290.88 129.5,290.88 130,290.88 130.5,290.87 131,290.87 131.5,290.87 132,290.87 132.5,290.87 133,290.87 133.5,290.87 134,290.87 134.5,290.86 135,290.86 135.5,290.86 136,290.86 136.5,290.86 137,290.86 137.5,290.86 138,290.86 138.5,290.85 139,290.85 139.5,290.85 140,290.85 140.5,290.85 141,290.85 141.5,290.85 142,290.84 142.5,290.84 143,290.84 143.5,290.84 144,290.84 144.5,290.84 145,290.84 145.5,290.84 146,290.83 146.5,290.83 147,290.83 147.5,290.83 148,290.83 148.5,290.83 149,290.83 149.5,290.83 150,290.82 150.5,290.82 151,290.82 151.5,290.82 152,290.82 152.5,290.82 153,290.82 153.5,290.82 154,290.81 154.5,290.81 155,290.81 155.5,290.81 156,290.81 156.5,290.81 157,290.81 157.5,290.81 158,290.81 158.5,290.8 159,290.8 159.5,290.8 160,290.8 160.5,290.8 161,290.79 161.5,290.79 162,290.78 162.5,290.78 163,290.78 163.5,290.77 164,290.77 164.5,290.76 165,290.76 165.5,290.76 166,290.75 166.5,290.75 167,290.74 167.5,290.74 168,290.73 168.5,290.73 169,290.73 169.5,290.72 170,290.72 170.5,290.71 171,290.71 171.5,290.71 172,290.7 172.5,290.7 173,290.69 173.5,290.69 174,290.69 174.5,290.68 175,290.68 175.5,290.67 176,290.67 176.5,290.67 177,290.66 177.5,290.66 178,290.65 178.5,290.65 179,290.65 179.5,290.64 180,290.64 180.5,290.63 181,290.63 181.5,290.63 182,290.62 182.5,290.62 183,290.61 183.5,290.61 184,290.6 184.5,290.6 185,290.56 185.5,290.51 186,290.45 186.5,290.4 187,290.35 187.5,290.29 188,290.24 188.5,290.19 189,290.14 189.5,290.08 190,290.03 190.5,290 191,289.99 191.5,289.98 192,289.98 192.5,289.97 193,289.96 193.5,289.96 194,289.95 194.5,289.94 195,289.94 195.5,289.93 196,289.92 196.5,289.92 197,289.91 197.5,289.9 198,289.9 198.5,289.89 199,289.88 199.5,289.87 200,289.87 200.5,289.86 201,289.85 201.5,289.85 202,289.84 202.5,289.83 203,289.83 203.5,289.82 204,289.81 204.5,289.81 205,289.8 205.5,289.79 206,289.78 206.5,289.76 207,289.75 207.5,289.74 208,289.73 208.5,289.72 209,289.71 209.5,289.69 210,289.68 210.5,289.67 211,289.66 211.5,289.65 212,289.64 212.5,289.62 213,289.61 213.5,289.6 214,289.59 214.5,289.58 215,289.57 215.5,289.55 216,289.54 216.5,289.53 217,289.52 217.5,289.51 218,289.5 218.5,289.48 219,289.47 219.5,289.46 220,289.45 220.5,289.44 221,289.43 221.5,289.41 222,289.4 222.5,289.39 223,289.38 223.5,289.37 224,289.36 224.5,289.34 225,289.33 225.5,289.32 226,289.31 226.5,289.27 227,289.14 227.5,289.01 228,288.87 228.5,288.74 229,288.6 229.5,288.47 230,288.34 230.5,288.2 231,288.07 231.5,287.93 232,287.8 232.5,287.47 233,287.13 233.5,286.8 234,286.47 234.5,286.13 235,285.8 235.5,285.47 236,285.13 236.5,284.8 237,284.47 237.5,284.13 238,283.8 238.5,283.47 239,283.13 239.5,282.8 240,282.47 240.5,282.13 241,281.8 241.5,281.47 242,281.13 242.5,280.8 243,280.47 243.5,280.17 244,280.04 244.5,279.9 245,279.77 245.5,279.63 246,279.5 246.5,279.36 247,279.22 247.5,279.09 248,278.95 248.5,279.05 249,279.29 249.5,279.54 250,279.78 250.5,280.03 251,280.27 251.5,280.51 252,280.76 252.5,281 253,281.24 253.5,281.42 254,281.61 254.5,281.79 255,281.97 255.5,282.16 256,282.34 256.5,282.53 257,282.71 257.5,282.89 258,283.08 258.5,283.26 259,283.45 259.5,283.63 260,283.82 260.5,284 261,284.13 261.5,284.26 262,284.39 262.5,284.53 263,284.66 263.5,284.79 264,284.92 264.5,285.05 265,285.18 265.5,285.32 266,285.45 266.5,285.58 267,285.71 267.5,285.84 268,285.97 268.5,286.11 269,286.24 269.5,286.37 270,286.5 270.5,286.6 271,286.7 271.5,286.8 272,286.9 272.5,287 273,287.1 273.5,287.2 274,287.3 274.5,287.4 275,287.5 275.5,287.6 276,287.7 276.5,287.8 277,287.9 277.5,288 278,288.1 278.5,288.2 279,288.3 279.5,288.4 280,288.42 280.5,288.43 281,288.45 281.5,288.47 282,288.48 282.5,288.5 283,288.51 283.5,288.53 284,288.55 284.5,288.56 285,288.58 285.5,288.6 286,288.61 286.5,288.63 287,288.64 287.5,288.66 288,288.68 288.5,288.69 289,288.71 289.5,288.73 290,288.74 290.5,288.76 291,288.77 291.5,288.79 292,288.74 292.5,288.6 293,288.45 293.5,288.31 294,288.17 294.5,288.02 295,287.88 295.5,287.73 296,287.59 296.5,287.45 297,287.3 297.5,287.16 298,287.02 298.5,286.87 299,286.74 299.5,286.61 300,286.48 300.5,286.35 301,286.22 301.5,286.08 302,285.95 302.5,285.82 303,285.69 303.5,285.56 304,285.43 304.5,285.44 305,285.49 305.5,285.55 306,285.6 306.5,285.65 307,285.71 307.5,285.76 308,285.81 308.5,285.86 309,285.92 309.5,285.97 310,285.89 310.5,285.63 311,285.37 311.5,285.11 312,284.84 312.5,284.58 313,284.32 313.5,284.05 314,283.79 314.5,283.53 315,283.26 315.5,283 316,282.84 316.5,282.68 317,282.53 317.5,282.37 318,282.21 318.5,282.05 319,281.89 319.5,281.74 320,281.58 320.5,281.42 321,281.26 321.5,281.15 322,281.07 322.5,280.99 323,280.92 323.5,280.84 324,280.76 324.5,280.68 325,280.6 325.5,280.52 326,280.44 326.5,280.36 327,280.28 327.5,280.21 328,280.13 328.5,280.05 329,279.97 329.5,279.89 330,279.81 330.5,279.73 331,279.58 331.5,279.39 332,279.2 332.5,279 333,278.81 333.5,278.61 334,278.42 334.5,278.22 335,278.03 335.5,277.84 336,277.64 336.5,277.45 337,277.25 337.5,277.06 338,276.87 338.5,276.67 339,276.48 339.5,276.49 340,276.63 340.5,276.77 341,276.92 341.5,277.06 342,277.21 342.5,277.35 343,277.49 343.5,277.64 344,277.78 344.5,277.93 345,278.07 345.5,278.21 346,278.35 346.5,278.48 347,278.6 347.5,278.73 348,278.85 348.5,278.98 349,279.1 349.5,279.23 350,279.35 350.5,279.48 351,279.6 351.5,279.73 352,279.85 352.5,279.98 353,280.1 353.5,280.27 354,280.59 354.5,280.92 355,281.25 355.5,281.58 356,281.91 356.5,282.24 357,282.57 357.5,282.54 358,282.28 358.5,282.02 359,281.76 359.5,281.5 360,281.24 360.5,280.98 361,280.72 361.5,280.46 362,280.2 362.5,280.39 363,280.58 363.5,280.77 364,280.96 364.5,281.15 365,281.34 365.5,281.53 366,281.72 366.5,281.9 367,282.09 367.5,282.28 368,282.47 368.5,282.66 369,282.84 369.5,283.02 370,283.2 370.5,283.38 371,283.55 371.5,283.73 372,283.91 372.5,284.09 373,284.26 373.5,284.44 374,284.62 374.5,284.8 375,284.97 375.5,285.15 376,285.33 376.5,285.5 377,285.66 377.5,285.82 378,285.98 378.5,286.14 379,286.3 379.5,286.46 380,286.62 380.5,286.78 381,286.94 381.5,287.1 382,287.26 382.5,287.42 383,287.58 383.5,287.74 384,287.87 384.5,287.99 385,288.12 385.5,288.24 386,288.36 386.5,288.48 387,288.6 387.5,288.72 388,288.84 388.5,288.96 389,289.08 389.5,289.2 390,289.32 390.5,289.44 391,289.56 391.5,289.68 392,289.54 392.5,289.34 393,289.15 393.5,288.95 394,288.75 394.5,288.55 395,288.35 395.5,288.16 396,287.96 396.5,287.67 397,287.04 397.5,286.41 398,285.78 398.5,285.15 399,284.52 399.5,283.89 400,283.26 400.5,282.63 401,282 401.5,281.7 402,281.4 402.5,281.1 403,280.8 403.5,280.5 404,280.2 404.5,280.17 405,280.14 405.5,280.11 406,280.08 406.5,280.05 407,280.02 407.5,279.99 408,279.96 408.5,279.93 409,279.9 409.5,279.87 410,279.84 410.5,279.81 411,279.78 411.5,279.75 412,279.72 412.5,279.69 413,279.66 413.5,279.63 414,279.6 414.5,279.57 415,279.54 415.5,279.51 416,279.48 416.5,279.45 417,279.42 417.5,279.39 418,279.36 418.5,279.33 419,279.3 419.5,279.07 420,278.83 420.5,278.6 421,278.36 421.5,278.13 422,277.89 422.5,277.66 423,277.42 423.5,277.19 424,277 424.5,277 425,277 425.5,277 426,277 426.5,277 427,277 427.5,277 428,277 428.5,277 429,277 429.5,277 430,277 430.5,277 431,277 431.5,277.07 432,277.4 432.5,277.73 433,278.07 433.5,278.4 434,278.73 434.5,279.07 435,279.4 435.5,279.73 436,280.07 436.5,280.27 437,280.4 437.5,280.52 438,280.64 438.5,280.76 439,280.89 439.5,281.01 440,281.13 440.5,281.26 441,281.38 441.5,281.5 442,281.6 442.5,281.63 443,281.65 443.5,281.67 444,281.69 444.5,281.71 445,281.73 445.5,281.75 446,281.77 446.5,281.79 447,281.81 447.5,281.84 448,281.86 448.5,281.88 449,281.9 449.5,281.92 450,281.94 450.5,281.96 451,281.98 451.5,281.99 452,281.92 452.5,281.86 453,281.8 453.5,281.73 454,281.67 454.5,281.6 455,281.54 455.5,281.48 456,281.41 456.5,281.35 457,281.29 457.5,281.22 458,281.16 458.5,281.09 459,281.03 459.5,280.97 460,280.9 460.5,280.84 461,280.68 461.5,280.38 462,280.08 462.5,279.79 463,279.49 463.5,279.19 464,278.89 464.5,278.59 465,278.29 465.5,278 466,277.7 466.5,277.4 467,277.18 467.5,276.97 468,276.75 468.5,276.53 469,276.32 469.5,276.1 470,275.89 470.5,275.67 471,275.45 471.5,275.24 472,275.02 472.5,274.8 473,274.59 473.5,274 474,273.16 474.5,272.32 475,271.48 475.5,270.64 476,269.8 476.5,268.93 477,268.06 477.5,267.19 478,266.33 478.5,265.46 479,264.59 479.5,263.72 480,263.19 480.5,263.15 481,263.12 481.5,263.08 482,263.04 482.5,263.01 483,262.97 483.5,262.94 484,262.9 484.5,262.87 485,262.83 485.5,262.8 486,262.76 486.5,262.73 487,262.69 487.5,262.66 488,262.62 488.5,262.66 489,262.81 489.5,262.96 490,263.11 490.5,263.26 491,263.4 491.5,263.55 492,263.7 492.5,263.85 493,264 493.5,264.35 494,264.7 494.5,265.05 495,265.4 495.5,265.75 496,266.11 496.5,266.46 497,266.81 497.5,267.16 498,267.51 498.5,267.86 499,268.19 499.5,268.51 500,268.83 500.5,269.15 501,269.47 501.5,269.79 502,270.11 502.5,270.42 503,270.74 503.5,271.06 504,271.38 504.5,271.7 505,270.95 505.5,270.2 506,269.45 506.5,268.7 507,267.95 507.5,267.2 508,266.45 508.5,265 509,262.5"/>
<polyline fill="none" stroke="#c41c34" stroke-opacity="0.92" stroke-width="1.45" stroke-linejoin="round" points="522,187.3 522.5,191.69 523,196.09 523.5,200.25 524,203.52 524.5,206.78 525,210.04 525.5,212.05 526,212.18 526.5,212.32 527,212.45 527.5,212.58 528,212.71 528.5,212.84 529,212.97 529.5,212.67 530,212.25 530.5,211.83 531,211.42 531.5,211 532,210.58 532.5,210.17 533,209.75 533.5,209.33 534,209.32 534.5,210.89 535,212.47 535.5,214.05 536,215 536.5,215 537,215 537.5,215 538,215 538.5,215 539,215 539.5,215 540,215 540.5,215 541,215 541.5,215 542,215 542.5,215 543,215 543.5,215 544,215 544.5,215.38 545,216.34 545.5,217.3 546,218.26 546.5,219.21 547,220.17 547.5,221.13 548,222.09 548.5,223.04 549,224 549.5,224.86 550,225.72 550.5,226.59 551,227.45 551.5,228.31 552,229.08 552.5,229.47 553,229.87 553.5,230.26 554,230.66 554.5,231.05 555,231.45 555.5,231.84 556,229.96 556.5,226.57 557,223.18 557.5,219.79 558,216.39 558.5,213 559,209.47 559.5,205.95 560,202.42 560.5,199.58 561,199.51 561.5,199.43 562,199.35 562.5,199.27 563,199.19 563.5,199.11 564,199.03 564.5,198.95 565,198.87 565.5,198.79 566,198.72 566.5,200.24 567,202.16 567.5,204.08 568,206 568.5,204.91 569,203.82 569.5,202.72 570,201.63 570.5,200.54 571,199.45 571.5,198.36 572,198.78 572.5,201.49 573,204.21 573.5,206.92 574,209.71 574.5,212.57 575,215.43 575.5,218.29 576,221.14 576.5,224 577,226.93 577.5,229.86 578,232.79 578.5,235.72 579,238.66 579.5,241.32 580,242.93 580.5,244.54 581,246.14 581.5,247.75 582,249.36 582.5,251.29 583,253.43 583.5,255.57 584,257.71 584.5,259.86 585,262 585.5,263 586,264 586.5,265 587,266 587.5,265.46 588,264.93 588.5,264.39 589,263.86 589.5,263.32 590,263.11 590.5,263.37 591,263.63 591.5,263.89 592,264.54 592.5,265.43 593,266.32 593.5,267.21 594,268.11 594.5,269 595,269.36 595.5,269.71 596,270.07 596.5,270.42 597,270.78 597.5,271.13 598,271.49 598.5,271.79 599,272.01 599.5,272.24 600,272.46 600.5,272.68 601,272.91 601.5,273.13 602,273.35 602.5,273.58 603,273.8"/>
<polyline fill="none" stroke="#e3142a" stroke-opacity="0.96" stroke-width="1.8" stroke-linejoin="round" stroke-linecap="round" points="508.5,265 509,262.5 509.5,260 510,257.5 510.5,255 511,241.67 511.5,228.33 512,215 512.5,201.67 513,188.33 513.5,175 514,166.75 514.5,158.5 515,150.25 515.5,142 516,140.33 516.5,138.67 517,137 517.5,141.33 518,145.67 518.5,150 519,155.95 519.5,161.9 520,167.86 520.5,173.81 521,178.51 521.5,182.91 522,187.3 522.5,191.69"/>
<!-- axes -->
<rect x="53" y="22" width="1.1" height="282" fill="#000"/>
<rect x="53" y="303" width="575.5" height="1.1" fill="#333"/>
<g stroke="#444" stroke-width="0.9">
<line x1="50.8" y1="37" x2="53" y2="37"/><line x1="50.8" y1="121.7" x2="53" y2="121.7"/><line x1="50.8" y1="206.3" x2="53" y2="206.3"/><line x1="50.8" y1="291.1" x2="53" y2="291.1"/>
<line x1="161" y1="304" x2="161" y2="305.6"/><line x1="279.3" y1="304" x2="279.3" y2="305.6"/><line x1="395.7" y1="304" x2="395.7" y2="305.6"/><line x1="514" y1="304" x2="514" y2="305.6"/>
</g>
<g font-size="8" fill="#4c4c4c" text-anchor="end">
<text x="49.2" y="39.2">60000</text><text x="49.2" y="123.9">40000</text><text x="49.2" y="208.5">20000</text><text x="49.2" y="293.3">0</text>
</g>
<g font-size="7.4" fill="#484848" text-anchor="middle">
<text x="161" y="313.7">Ιουλ 2020</text><text x="279.3" y="313.7">Ιαν 2021</text><text x="395.7" y="313.7">Ιουλ 2021</text><text x="514" y="313.7">Ιαν 2022</text>
</g>
<text x="341.6" y="324.9" font-size="10" fill="#000" text-anchor="middle" textLength="119.6" lengthAdjust="spacing">Ημερομηνία λήψης δείγματος</text>
<text transform="translate(22.9,163.2) rotate(-90)" font-size="10" fill="#000" text-anchor="middle" textLength="147.6" lengthAdjust="spacing">Αριθμός νέων κρουσμάτων(ατόμων)</text>
<!-- legend -->
<rect x="89.2" y="74.4" width="12.2" height="11.8" fill="#f2f2f2"/>
<rect x="90.3" y="79.4" width="10" height="1.4" fill="#e0303f"/>
<text x="106" y="83.3" font-size="7.6" fill="#222" textLength="141.5" lengthAdjust="spacing">7ήμερος μέσος όρος κρουσμάτων(ατόμων)</text>
<g font-size="8.7" font-weight="bold" fill="#000">
<text x="80.4" y="14" textLength="45.3" lengthAdjust="spacingAndGlyphs">Διάγραμμα</text><text x="127.9" y="14" textLength="5.8" lengthAdjust="spacingAndGlyphs">1:</text><text x="137.5" y="14" textLength="33.9" lengthAdjust="spacingAndGlyphs">Αριθμός</text><text x="176" y="14" textLength="54.4" lengthAdjust="spacingAndGlyphs">εργαστηριακά</text><text x="235" y="14" textLength="57.1" lengthAdjust="spacingAndGlyphs">επιβεβαιωμένων</text><text x="302.9" y="14" textLength="52.8" lengthAdjust="spacingAndGlyphs">κρουσμάτων</text><text x="360" y="14" textLength="38.6" lengthAdjust="spacingAndGlyphs">COVID-19</text><text x="403.9" y="14" textLength="19" lengthAdjust="spacingAndGlyphs">στην</text><text x="427.9" y="14" textLength="30.7" lengthAdjust="spacingAndGlyphs">Ελλάδα,</text><text x="463.6" y="14" textLength="8.9" lengthAdjust="spacingAndGlyphs">19</text><text x="476.4" y="14" textLength="24" lengthAdjust="spacingAndGlyphs">Μαΐου</text><text x="504.6" y="14" textLength="18.3" lengthAdjust="spacingAndGlyphs">2022</text>
</g>
<!-- notes -->
<g font-size="9.8" fill="#1e1e2a" stroke="#1e1e2a" stroke-width="0.3">
<text x="10.2" y="348" textLength="19.8" lengthAdjust="spacingAndGlyphs">Σημ.:</text><text x="36" y="348" textLength="5.7" lengthAdjust="spacingAndGlyphs">οι</text><text x="46.7" y="348" textLength="29.3" lengthAdjust="spacingAndGlyphs">στήλες</text><text x="80.3" y="348" textLength="14.4" lengthAdjust="spacingAndGlyphs">στο</text><text x="98.7" y="348" textLength="44.6" lengthAdjust="spacingAndGlyphs">Διάγραμμα</text><text x="148.1" y="348" textLength="3.6" lengthAdjust="spacingAndGlyphs">1</text><text x="156" y="348" textLength="46.3" lengthAdjust="spacingAndGlyphs">εκφράζουν</text><text x="206.7" y="348" textLength="15" lengthAdjust="spacingAndGlyphs">τον</text><text x="226.7" y="348" textLength="30" lengthAdjust="spacingAndGlyphs">αριθμό</text><text x="261.7" y="348" textLength="21" lengthAdjust="spacingAndGlyphs">νέων</text><text x="287.7" y="348" textLength="50" lengthAdjust="spacingAndGlyphs">κρουσμάτων</text><text x="342.4" y="348" textLength="10" lengthAdjust="spacingAndGlyphs">με</text><text x="357.3" y="348" textLength="19.9" lengthAdjust="spacingAndGlyphs">βάση</text><text x="382.1" y="348" textLength="13.7" lengthAdjust="spacingAndGlyphs">την</text><text x="400" y="348" textLength="51.1" lengthAdjust="spacingAndGlyphs">ημερομηνία</text><text x="455.8" y="348" textLength="25.6" lengthAdjust="spacingAndGlyphs">λήψης</text><text x="486.2" y="348" textLength="67" lengthAdjust="spacingAndGlyphs">εργαστηριακού</text><text x="558.2" y="348" textLength="42.9" lengthAdjust="spacingAndGlyphs">δείγματος,</text><text x="605.8" y="348" textLength="13.2" lengthAdjust="spacingAndGlyphs">και</text><text x="623.5" y="348" textLength="10" lengthAdjust="spacingAndGlyphs">όχι</text>
</g>
<rect x="10" y="357.8" width="250" height="1" fill="#000"/>
<text x="22.7" y="367.6" font-size="5.2" fill="#26262e">1</text>
<g font-size="8.5" fill="#26262e" stroke="#26262e" stroke-width="0.18">
<text x="26.2" y="371" textLength="55.3" lengthAdjust="spacingAndGlyphs">Επαναλοίμωξη</text><text x="86.5" y="371" textLength="29" lengthAdjust="spacingAndGlyphs">ορίζεται</text><text x="120.5" y="371" textLength="8.7" lengthAdjust="spacingAndGlyphs">ως</text><text x="134.1" y="371" textLength="3.8" lengthAdjust="spacingAndGlyphs">η</text><text x="142.4" y="371" textLength="41" lengthAdjust="spacingAndGlyphs">καταγραφή</text><text x="188.3" y="371" textLength="28.6" lengthAdjust="spacingAndGlyphs">θετικού</text><text x="221.8" y="371" textLength="57.9" lengthAdjust="spacingAndGlyphs">εργαστηριακού</text><text x="284.4" y="371" textLength="60.6" lengthAdjust="spacingAndGlyphs">αποτελέσματος</text><text x="349.9" y="371" textLength="11.5" lengthAdjust="spacingAndGlyphs">για</text><text x="366.1" y="371" textLength="33" lengthAdjust="spacingAndGlyphs">κορωνοϊό</text><text x="403.2" y="371" textLength="42.2" lengthAdjust="spacingAndGlyphs">SARS-CoV-2</text><text x="450.1" y="371" textLength="9.4" lengthAdjust="spacingAndGlyphs">με</text><text x="464.5" y="371" textLength="7.9" lengthAdjust="spacingAndGlyphs">τη</text><text x="476.9" y="371" textLength="19.8" lengthAdjust="spacingAndGlyphs">χρήση</text><text x="501.6" y="371" textLength="36.2" lengthAdjust="spacingAndGlyphs">μοριακού</text><text x="542.6" y="371" textLength="28" lengthAdjust="spacingAndGlyphs">ελέγχου</text><text x="575.6" y="371" textLength="18.6" lengthAdjust="spacingAndGlyphs">(PCR)</text><text x="599.1" y="371" textLength="3.3" lengthAdjust="spacingAndGlyphs">ή</text><text x="607.3" y="371" textLength="26.1" lengthAdjust="spacingAndGlyphs">ταχείας</text>
<text x="10.5" y="383.8" textLength="40.4" lengthAdjust="spacingAndGlyphs">δοκιμασίας</text><text x="55.4" y="383.8" textLength="36.4" lengthAdjust="spacingAndGlyphs">αντιγόνου</text><text x="96.1" y="383.8" textLength="21.8" lengthAdjust="spacingAndGlyphs">(RAT),</text><text x="122.9" y="383.8" textLength="8.2" lengthAdjust="spacingAndGlyphs">σε</text><text x="135.8" y="383.8" textLength="26.8" lengthAdjust="spacingAndGlyphs">χρονικό</text><text x="166.9" y="383.8" textLength="34.8" lengthAdjust="spacingAndGlyphs">διάστημα</text><text x="206.4" y="383.8" textLength="13.6" lengthAdjust="spacingAndGlyphs">≥90</text><text x="225" y="383.8" textLength="25.5" lengthAdjust="spacingAndGlyphs">ημερών</text><text x="255.5" y="383.8" textLength="15.6" lengthAdjust="spacingAndGlyphs">μετά</text><text x="275.8" y="383.8" textLength="13.2" lengthAdjust="spacingAndGlyphs">από</text><text x="294.2" y="383.8" textLength="51.6" lengthAdjust="spacingAndGlyphs">προηγούμενη</text><text x="350.3" y="383.8" textLength="51.8" lengthAdjust="spacingAndGlyphs">εργαστηριακή</text><text x="407.1" y="383.8" textLength="36.7" lengthAdjust="spacingAndGlyphs">διάγνωση</text><text x="448.2" y="383.8" textLength="12.6" lengthAdjust="spacingAndGlyphs">του</text><text x="465.3" y="383.8" textLength="42.3" lengthAdjust="spacingAndGlyphs">SARS-CoV-2</text><text x="512" y="383.8" textLength="12" lengthAdjust="spacingAndGlyphs">(με</text><text x="528.4" y="383.8" textLength="7.5" lengthAdjust="spacingAndGlyphs">τη</text><text x="540.4" y="383.8" textLength="20.1" lengthAdjust="spacingAndGlyphs">χρήση</text><text x="564.9" y="383.8" textLength="35.9" lengthAdjust="spacingAndGlyphs">μοριακού</text><text x="605.2" y="383.8" textLength="28" lengthAdjust="spacingAndGlyphs">ελέγχου</text>
<text x="10.5" y="396.1" textLength="19.3" lengthAdjust="spacingAndGlyphs">(PCR)</text><text x="34" y="396.1" textLength="3.3" lengthAdjust="spacingAndGlyphs">ή</text><text x="41.5" y="396.1" textLength="26" lengthAdjust="spacingAndGlyphs">ταχείας</text><text x="71.5" y="396.1" textLength="40.7" lengthAdjust="spacingAndGlyphs">δοκιμασίας</text><text x="116.2" y="396.1" textLength="40.2" lengthAdjust="spacingAndGlyphs">αντιγόνου)</text><text x="161" y="396.1" textLength="12.7" lengthAdjust="spacingAndGlyphs">στο</text><text x="177.6" y="396.1" textLength="13.9" lengthAdjust="spacingAndGlyphs">ίδιο</text><text x="195.4" y="396.1" textLength="24.8" lengthAdjust="spacingAndGlyphs">άτομο.</text>
</g>
</svg>
</body></html>
